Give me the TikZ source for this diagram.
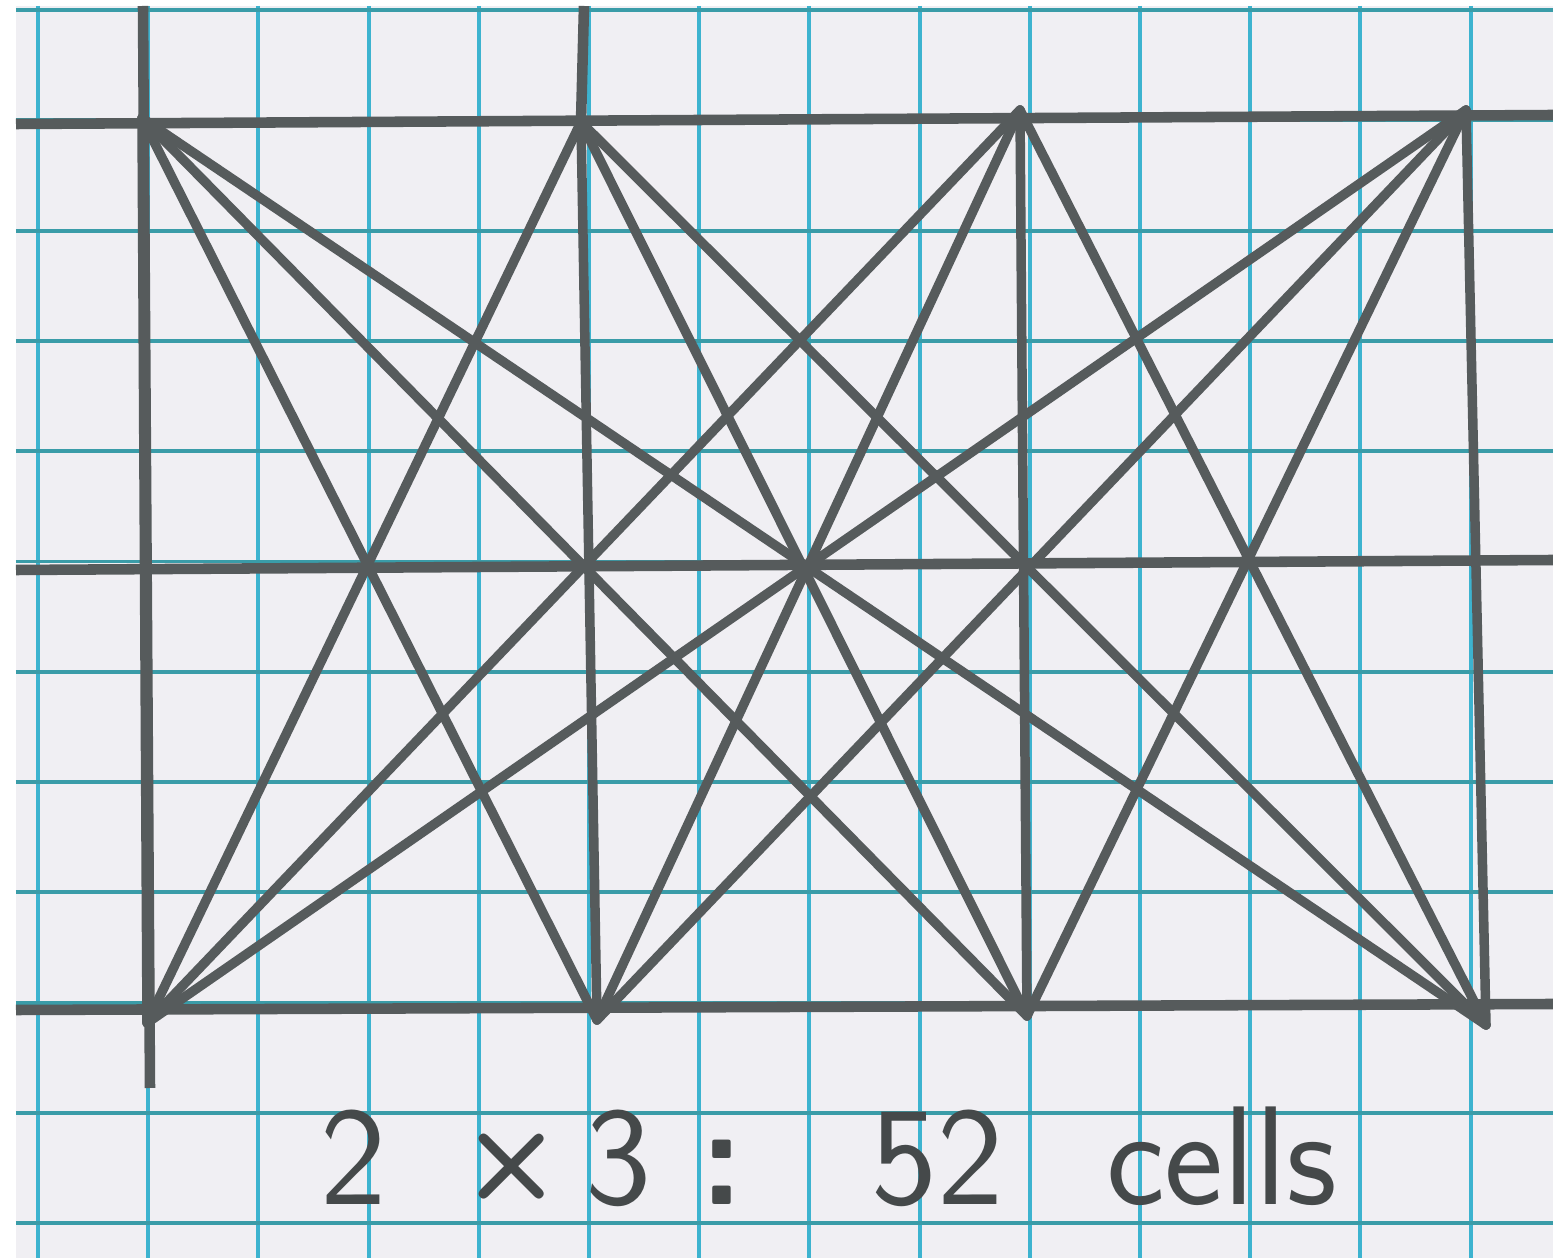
\documentclass[tikz,border=0pt]{standalone}
\usepackage{fontspec}
\usepackage{tikz}
\definecolor{paper}{HTML}{F0EFF3}
\definecolor{gridblue}{HTML}{3DB3CF}
\definecolor{gridteal}{HTML}{3A9CA8}
\definecolor{lead}{HTML}{565B5C}
\definecolor{ink}{HTML}{45494A}
\begin{document}
\begin{tikzpicture}[x=0.01cm, y=-0.01cm,
  vgrid/.style={gridblue, line width=1.1pt},
  hgrid/.style={gridteal, line width=1.1pt},
  pencil/.style={lead, line width=2.7pt, line cap=round},
  rule/.style={lead, line width=3pt},
  caption/.style={inner sep=0pt, anchor=base west, text=ink, font=\sffamily\fontsize{40}{40}\selectfont}]
\useasboundingbox (0,0) rectangle (1553,1258);
\fill[white] (0,0) rectangle (1553,1258);
\fill[paper] (16,6) rectangle (1553,1258);
% graph paper
\foreach \k in {0,...,13} \draw[vgrid] ({38+110.2*\k},6) -- ({38+110.2*\k},1258);
\foreach \k in {0,...,11} \draw[hgrid] (16,{10+110.3*\k}) -- (1553,{10+110.3*\k});
% corners of the 2 x 3 block
\coordinate (t1) at (142,118); \coordinate (t2) at (581,122);
\coordinate (t3) at (1020,110); \coordinate (t4) at (1466,110);
\coordinate (b1) at (147,1023); \coordinate (b2) at (597,1020);
\coordinate (b3) at (1027,1016); \coordinate (b4) at (1486,1025);
\coordinate (topL) at (16,124); \coordinate (topR) at (1553,115);
\coordinate (midL) at (16,570); \coordinate (midR) at (1553,560);
\coordinate (botL) at (16,1010); \coordinate (botR) at (1553,1004);
\coordinate (leftT) at (143,6); \coordinate (leftB) at (150,1088);
\coordinate (secT) at (584,6);
\draw[rule] (topL) -- (topR);
\draw[rule] (midL) -- (midR);
\draw[rule] (botL) -- (botR);
\draw[rule] (leftT) -- (leftB);
\draw[rule] (secT) -- (t2);
\foreach \i in {1,...,4}
  \foreach \j in {1,...,4}
    \draw[pencil] (t\i) -- (b\j);
\node[caption] (label) at (320,1205) {\makebox[1.4cm][l]{2}\makebox[1.25cm][l]{\raisebox{0.08cm}{\scalebox{0.85}{\bfseries\texttimes}}}\makebox[1.15cm][l]{3}\makebox[1.7cm][l]{\bfseries:}\makebox[2.35cm][l]{52}cells};
\end{tikzpicture}
\end{document}
